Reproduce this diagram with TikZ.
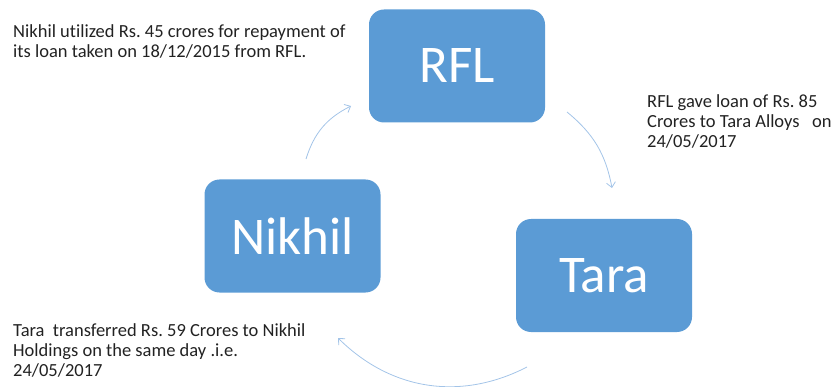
\documentclass[tikz,border=0pt]{standalone}
\usepackage{fontspec}
\setmainfont{Carlito}[Ligatures=NoCommon]
\usetikzlibrary{arrows.meta}
\definecolor{boxblue}{HTML}{5B9BD5}
\definecolor{arrowblue}{HTML}{A3C4E8}
\definecolor{notetext}{HTML}{222222}
\frenchspacing
\begin{document}
\begin{tikzpicture}[x=1pt,y=-1pt,
  entity/.style={fill=boxblue, rounded corners=15pt, minimum width=176pt,
    minimum height=113pt, text=white, inner sep=0pt,
    font=\fontsize{53}{60}\selectfont},
  note/.style={align=left, inner sep=0pt, anchor=base west, text=notetext,
    font=\fontsize{18.5}{20}\selectfont},
  flow/.style={draw=arrowblue, line width=0.8pt,
    -{Straight Barb[length=5pt,width=9pt]}}]
\useasboundingbox (0,0) rectangle (832,387);

% the three parties
\node[entity] (rfl)    at (457,66)    {RFL};
\node[entity] (nikhil) at (292.5,236) {Nikhil};
\node[entity] (tara)   at (604,275.5) {Tara};

% end points of the cycle arrows
\coordinate (n2rA) at (306,159);
\coordinate (n2rB) at (351,106);
\coordinate (r2tA) at (567,112);
\coordinate (r2tB) at (612,188);
\coordinate (t2nA) at (527,367);
\coordinate (t2nB) at (338,338);

\draw[flow] (n2rA) to[bend left=23] (n2rB);
\draw[flow] (r2tA) to[bend left=20] (r2tB);
\draw[flow] (t2nA) to[bend left=36] (t2nB);

% transaction notes (placed by the baseline of their last line)
\node[note] (noteA) at (13,58)
  {Nikhil utilized Rs. 45 crores for repayment of\\its loan taken on 18/12/2015 from RFL.};
\node[note] (noteB) at (647,148)
  {RFL gave loan of Rs. 85\\Crores to Tara Alloys\ \ \ on\\24/05/2017};
\node[note] (noteC) at (13,376)
  {Tara\ \ transferred Rs. 59 Crores to Nikhil\\Holdings on the same day .i.e.\\24/05/2017};
\end{tikzpicture}
\end{document}
